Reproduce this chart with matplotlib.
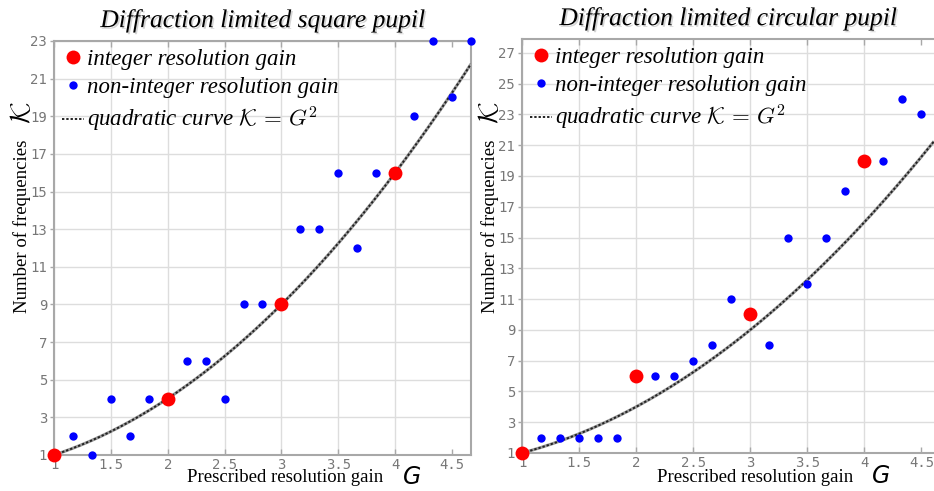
import matplotlib
matplotlib.use("Agg")
import matplotlib.pyplot as plt
import matplotlib.patheffects as pe
import numpy as np

plt.rcParams['mathtext.fontset'] = 'cm'

# Square pupil: number of frequencies K vs prescribed resolution gain G
sq_int_G = [1, 2, 3, 4]
sq_int_K = [1, 4, 9, 16]
sq_frac_G = [1.167, 1.333, 1.5, 1.667, 1.833, 2.167, 2.333, 2.5, 2.667, 2.833,
             3.167, 3.333, 3.5, 3.667, 3.833, 4.167, 4.333, 4.5, 4.667]
sq_frac_K = [2, 1, 4, 2, 4, 6, 6, 4, 9, 9, 13, 13, 16, 12, 16, 19, 23, 20, 23]

# Circular pupil
ci_int_G = [1, 2, 3, 4]
ci_int_K = [1, 6, 10, 20]
ci_frac_G = [1.167, 1.333, 1.5, 1.667, 1.833, 2.167, 2.333, 2.5, 2.667, 2.833,
             3.167, 3.333, 3.5, 3.667, 3.833, 4.167, 4.333, 4.5]
ci_frac_K = [2, 2, 2, 2, 2, 6, 6, 7, 8, 11, 8, 15, 12, 15, 18, 20, 24, 23]

x_ticks = [1, 1.5, 2, 2.5, 3, 3.5, 4, 4.5]
sq_y_ticks = [1, 3, 5, 7, 9, 11, 13, 15, 17, 19, 21, 23]
ci_y_ticks = [1, 3, 5, 7, 9, 11, 13, 15, 17, 19, 21, 23, 25, 27]

titles = ["Diffraction limited square pupil", "Diffraction limited circular pupil"]

W, H = 934, 491
fig = plt.figure(figsize=(W / 100, H / 100), dpi=100)


def px_axes(x0, y0, x1, y1):
    return fig.add_axes([x0 / W, 1 - y1 / H, (x1 - x0) / W, (y1 - y0) / H])


def px(x, y):
    return x / W, 1 - y / H


serif = 'Liberation Serif'
spine_c = '#a8a8a8'
grid_c = '#dddddd'


def panel(ax, int_G, int_K, frac_G, frac_K, xmax, ymax, yticks, title, right_spine):
    g = np.linspace(1, xmax, 300)
    ax.plot(g, g ** 2, color='#9a9a9a', lw=2.2, zorder=2, solid_capstyle='butt')
    curve, = ax.plot(g, g ** 2, color='#222222', lw=1.4, ls=(0, (1.2, 1.0)), zorder=3,
                     label=r'quadratic curve $\mathcal{K}\,=\,G^2$')
    red, = ax.plot(int_G, int_K, 'o', color='#ff0000', ms=10, mec='none', zorder=5,
                   clip_on=False, label='integer resolution gain')
    blue, = ax.plot(frac_G, frac_K, 'o', color='#0000ff', ms=6, mec='none', zorder=4,
                    clip_on=False, label='non-integer resolution gain')

    ax.set_xlim(1, xmax)
    ax.set_ylim(1, ymax)
    ax.set_xticks(x_ticks)
    ax.set_xticklabels(['%g' % v for v in x_ticks])
    ax.set_yticks(yticks)
    ax.set_yticklabels(['%g' % v for v in yticks])
    ax.grid(True, color=grid_c, lw=1.0, zorder=0)
    ax.xaxis.get_gridlines()[-1].set_visible(False)
    ax.set_axisbelow(True)
    ax.tick_params(axis='x', direction='in', length=4, width=1, color=spine_c,
                   top=True, pad=2, labelsize=10, labelcolor='#777777')
    ax.tick_params(axis='y', direction='out', length=3, width=1, color=spine_c,
                   pad=2, labelsize=10, labelcolor='#777777')
    for lab in ax.get_xticklabels() + ax.get_yticklabels():
        lab.set_family('DejaVu Sans Mono')
    for s in ax.spines.values():
        s.set_color(spine_c)
        s.set_linewidth(1.5)
    ax.spines['right'].set_visible(right_spine)

    ax.set_title(title, family=serif, style='italic', fontsize=18.4, pad=10,
                 path_effects=[pe.withSimplePatchShadow(offset=(1.2, -1.2),
                                                        shadow_rgbFace='#888888', alpha=0.35)])

    leg = ax.legend(handles=[red, blue, curve], loc='upper left',
                    bbox_to_anchor=(0.0, 1.0), frameon=False,
                    prop={'family': serif, 'style': 'italic', 'size': 16.5},
                    handlelength=0.96, handletextpad=0.15, labelspacing=0.3,
                    borderaxespad=0.2, borderpad=0.15, numpoints=1)
    leg.set_zorder(10)


ax1 = px_axes(54, 41, 471, 455)
panel(ax1, sq_int_G, sq_int_K, sq_frac_G, sq_frac_K, 4.667, 23, sq_y_ticks, titles[0], True)
ax2 = px_axes(522, 39, 934, 453)
panel(ax2, ci_int_G, ci_int_K, ci_frac_G, ci_frac_K, 4.61, 27.9, ci_y_ticks, titles[1], False)

# Axis labels with their symbols
for ylx, kx, xlx, gx, xly in [(22, 22, 285, 412, 478), (490, 490, 755, 881, 477)]:
    fig.text(*px(ylx, 226), 'Number of frequencies', family=serif, fontsize=13.5,
             rotation=90, ha='center', va='center')
    fig.text(*px(kx, 113), r'$\mathcal{K}$', rotation=90, fontsize=20,
             ha='center', va='center')
    fig.text(*px(xlx, xly), 'Prescribed resolution gain', family=serif, fontsize=13.5,
             ha='center', va='center')
    fig.text(*px(gx, xly - 1), 'G', family='DejaVu Sans', style='italic',
             fontsize=17, ha='center', va='center')

fig.savefig('out.png', dpi=100)
